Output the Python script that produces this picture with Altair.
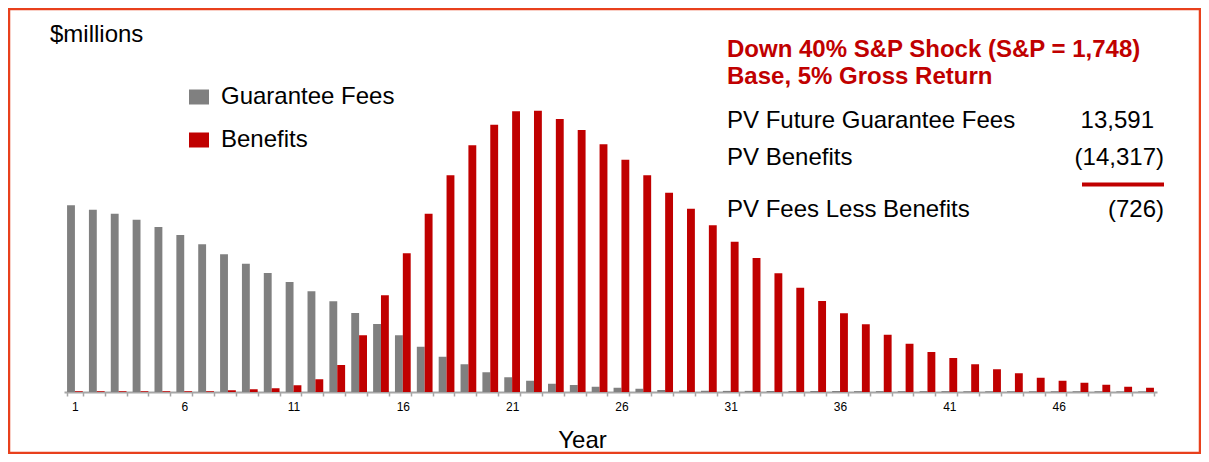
import altair as alt
import pandas as pd

years = list(range(1, 51))
guarantee_fees = [1494, 1458, 1426, 1378, 1320, 1256, 1182, 1102, 1026, 952,
                  880, 806, 726, 632, 544, 454, 362, 282, 222, 158,
                  118, 90, 66, 56, 42, 34, 26, 16, 12, 10,
                  9, 9, 8, 8, 8, 8, 7, 7, 7, 7,
                  7, 6, 6, 6, 6, 6, 6, 6, 5, 5]
benefits = [6, 6, 6, 6, 6, 6, 6, 14, 22, 30,
            54, 102, 216, 454, 774, 1110, 1426, 1734, 1974, 2138,
            2246, 2250, 2184, 2096, 1982, 1858, 1734, 1594, 1466, 1334,
            1202, 1072, 950, 834, 728, 630, 542, 458, 386, 320,
            272, 222, 182, 150, 114, 90, 74, 58, 42, 34]
series_names = ["Guarantee Fees", "Benefits"]
series_colors = ["#808080", "#C00000"]

heading = ["Down 40% S&P Shock (S&P = 1,748)", "Base, 5% Gross Return"]
summary_labels = ["PV Future Guarantee Fees", "PV Benefits", "PV Fees Less Benefits"]
summary_values = ["13,591", "(14,317)", "(726)"]

rows = []
for i, y in enumerate(years):
    rows.append({"year": y, "series": series_names[0], "value": guarantee_fees[i]})
    rows.append({"year": y, "series": series_names[1], "value": benefits[i]})
df = pd.DataFrame(rows)

FONT = "Liberation Sans"
W, H = 1093, 292

bars = alt.Chart(df).mark_bar().encode(
    x=alt.X("year:O",
            scale=alt.Scale(paddingInner=0.28, paddingOuter=0.14),
            axis=alt.Axis(title="Year", labelAngle=0, tickBand="extent",
                          labelExpr="(datum.value - 1) % 5 == 0 ? datum.label : ''",
                          labelOverlap=False, labelFontSize=12, labelColor="#000000",
                          labelPadding=5, tickSize=4, tickColor="#A6A6A6",
                          domainColor="#A6A6A6", domainWidth=2, tickWidth=1.5,
                          titleFontSize=24, titleFontWeight="normal", titleColor="#000000",
                          titlePadding=16, titleX=518, titleAlign="center",
                          labelFont=FONT, titleFont=FONT)),
    xOffset=alt.XOffset("series:N", sort=series_names),
    y=alt.Y("value:Q", scale=alt.Scale(domain=[0, 2336], nice=False), axis=None),
    color=alt.Color("series:N", sort=series_names,
                    scale=alt.Scale(domain=series_names, range=series_colors),
                    legend=alt.Legend(title=None, orient="none", legendX=123, legendY=-15,
                                      symbolType="M-1,-0.75H1V0.75H-1Z", symbolSize=400,
                                      symbolStrokeWidth=0, labelFontSize=24, labelFont=FONT,
                                      labelColor="#000000", labelOffset=10, labelLimit=0,
                                      rowPadding=19, padding=0)),
)

one = alt.Data(values=[{}])

def txt(text, x, y, align="left", bold=False, color="#000000", size=24):
    return alt.Chart(one).mark_text(
        text=text, align=align, baseline="middle", font=FONT, fontSize=size,
        fontWeight="bold" if bold else "normal", color=color
    ).encode(x=alt.value(x), y=alt.value(y))

border = alt.Chart(one).mark_rect(fill=None, stroke="#E8401C", strokeWidth=2.5).encode(
    x=alt.value(-55), x2=alt.value(1136), y=alt.value(-91), y2=alt.value(353))

underline = alt.Chart(one).mark_rule(color="#C00000", strokeWidth=4).encode(
    x=alt.value(1018), x2=alt.value(1100), y=alt.value(84.5))

layers = [
    border,
    bars,
    txt("$millions", -14, -65, size=24),
    txt(heading[0], 663, -50, bold=True, color="#C00000", size=24),
    txt(heading[1], 663, -23, bold=True, color="#C00000", size=24),
    txt(summary_labels[0], 663, 20.5),
    txt(summary_values[0], 1090, 20.5, align="right"),
    txt(summary_labels[1], 663, 57.5),
    txt(summary_values[1], 1100, 57.5, align="right"),
    underline,
    txt(summary_labels[2], 663, 110),
    txt(summary_values[2], 1100, 110, align="right"),
]

chart = alt.layer(*layers).properties(
    width=W, height=H,
    autosize=alt.AutoSizeParams(type="none"),
    padding={"left": 56, "top": 92, "right": 44, "bottom": 62},
    background="#FFFFFF",
).configure_view(stroke=None)

chart.save("out.html", embed_options={"renderer": "svg", "actions": False})
